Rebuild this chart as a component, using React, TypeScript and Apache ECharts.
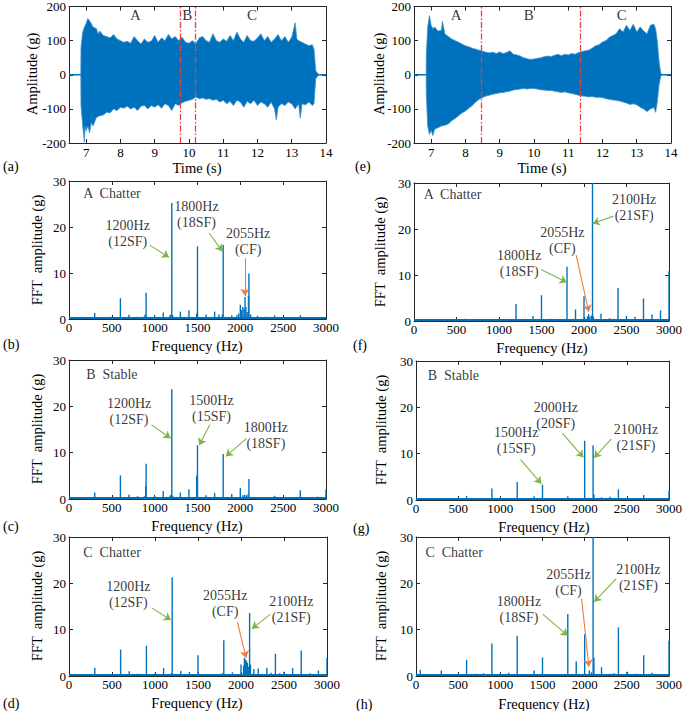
import React, { useEffect, useRef } from "react";
import * as echarts from "echarts";

// ---------------- data ----------------
const TIME_TICKS = [7, 8, 9, 10, 11, 12, 13, 14];

// envelope of the acceleration signal, panel (a)
const TIME_A_UPPER: [number, number][] = [
  [6.845, 0], [6.85, 80], [6.9, 125], [6.95, 140], [7.0, 150], [7.05, 165], [7.1, 158], [7.15, 150], [7.2, 140],
  [7.3, 135], [7.35, 120], [7.4, 128], [7.5, 115], [7.6, 112], [7.7, 108], [7.8, 118], [7.9, 105], [8.0, 100],
  [8.1, 95], [8.2, 98], [8.3, 92], [8.4, 112], [8.5, 100], [8.6, 90], [8.7, 105], [8.8, 95], [8.9, 98], [9.0, 115],
  [9.1, 95], [9.2, 108], [9.3, 100], [9.4, 118], [9.5, 105], [9.6, 112], [9.7, 100], [9.8, 110], [9.9, 95],
  [10.0, 92], [10.1, 100], [10.2, 90], [10.3, 108], [10.4, 112], [10.5, 100], [10.6, 95], [10.7, 120], [10.8, 100],
  [10.9, 95], [11.0, 105], [11.1, 98], [11.2, 115], [11.3, 100], [11.4, 125], [11.5, 105], [11.6, 95], [11.7, 115],
  [11.8, 100], [11.9, 98], [12.0, 108], [12.1, 120], [12.2, 100], [12.3, 112], [12.4, 95], [12.5, 105], [12.6, 118],
  [12.7, 100], [12.8, 112], [12.9, 95], [13.0, 110], [13.1, 152], [13.15, 105], [13.2, 100], [13.3, 95], [13.4, 90],
  [13.5, 85], [13.6, 88], [13.65, 75], [13.7, 12], [13.75, 5], [13.8, 0],
];
const TIME_A_LOWER: [number, number][] = [
  [6.845, 0], [6.85, -90], [6.9, -150], [6.95, -197], [6.97, -150], [7.0, -165], [7.05, -150], [7.1, -170],
  [7.15, -140], [7.2, -150], [7.3, -125], [7.4, -120], [7.5, -118], [7.6, -110], [7.7, -112], [7.8, -100],
  [7.9, -105], [8.0, -95], [8.1, -98], [8.2, -92], [8.3, -100], [8.4, -95], [8.5, -105], [8.6, -92], [8.7, -90],
  [8.8, -100], [8.9, -90], [9.0, -95], [9.1, -88], [9.2, -98], [9.3, -85], [9.4, -90], [9.5, -105], [9.6, -85],
  [9.7, -90], [9.8, -82], [9.9, -78], [10.0, -75], [10.1, -72], [10.2, -65], [10.3, -70], [10.4, -68], [10.5, -72],
  [10.6, -70], [10.7, -75], [10.8, -72], [10.9, -80], [11.0, -75], [11.1, -85], [11.2, -78], [11.3, -90], [11.4, -75],
  [11.5, -80], [11.6, -95], [11.7, -78], [11.8, -85], [11.9, -75], [12.0, -90], [12.1, -80], [12.2, -85], [12.3, -95],
  [12.4, -80], [12.5, -100], [12.55, -132], [12.6, -95], [12.7, -85], [12.8, -90], [12.9, -80], [13.0, -85],
  [13.1, -100], [13.2, -85], [13.25, -127], [13.3, -85], [13.4, -88], [13.5, -80], [13.6, -90], [13.65, -85],
  [13.7, -12], [13.75, -5], [13.8, 0],
];

// envelope of the acceleration signal, panel (e)
const TIME_E_UPPER: [number, number][] = [
  [6.855, 0], [6.86, 60], [6.9, 140], [6.95, 173], [7.0, 145], [7.05, 135], [7.1, 140], [7.2, 128], [7.3, 130],
  [7.33, 156], [7.4, 120], [7.5, 112], [7.6, 105], [7.7, 100], [7.8, 95], [7.9, 90], [8.0, 85], [8.1, 82], [8.2, 78],
  [8.3, 75], [8.4, 72], [8.5, 69], [8.6, 66], [8.7, 64], [8.8, 66], [8.9, 62], [9.0, 67], [9.1, 62], [9.2, 65],
  [9.3, 70], [9.4, 60], [9.5, 58], [9.6, 55], [9.7, 50], [9.8, 47], [9.9, 45], [10.0, 46], [10.1, 48], [10.2, 50],
  [10.3, 53], [10.4, 55], [10.5, 53], [10.6, 57], [10.7, 60], [10.8, 56], [10.9, 60], [11.0, 58], [11.1, 62],
  [11.2, 60], [11.3, 65], [11.4, 68], [11.5, 70], [11.6, 72], [11.7, 78], [11.8, 85], [11.9, 88], [12.0, 96],
  [12.1, 100], [12.2, 110], [12.3, 115], [12.4, 120], [12.5, 135], [12.6, 125], [12.7, 145], [12.8, 130],
  [12.9, 148], [13.0, 125], [13.1, 140], [13.2, 128], [13.3, 120], [13.4, 145], [13.5, 148], [13.55, 135],
  [13.6, 100], [13.65, 40], [13.7, 5], [13.75, 0],
];
const TIME_E_LOWER: [number, number][] = [
  [6.855, 0], [6.86, -60], [6.9, -150], [6.95, -175], [7.0, -163], [7.05, -178], [7.1, -160], [7.2, -155],
  [7.3, -150], [7.4, -148], [7.5, -144], [7.6, -135], [7.7, -128], [7.8, -120], [7.9, -112], [8.0, -106], [8.1, -98],
  [8.2, -90], [8.3, -80], [8.4, -72], [8.5, -67], [8.6, -62], [8.7, -60], [8.8, -57], [8.9, -55], [9.0, -53],
  [9.1, -52], [9.2, -50], [9.3, -48], [9.4, -45], [9.5, -43], [9.6, -42], [9.7, -40], [9.8, -42], [9.9, -40],
  [10.0, -40], [10.1, -42], [10.2, -44], [10.3, -45], [10.4, -46], [10.5, -46], [10.6, -48], [10.7, -50], [10.8, -52],
  [10.9, -50], [11.0, -53], [11.1, -55], [11.2, -57], [11.3, -60], [11.4, -62], [11.5, -63], [11.6, -65], [11.7, -64],
  [11.8, -66], [11.9, -66], [12.0, -67], [12.1, -70], [12.2, -72], [12.3, -74], [12.4, -75], [12.5, -77], [12.6, -80],
  [12.7, -83], [12.8, -87], [12.9, -85], [13.0, -88], [13.1, -95], [13.2, -100], [13.3, -108], [13.4, -100],
  [13.5, -96], [13.55, -110], [13.6, -80], [13.65, -30], [13.7, -5], [13.75, 0],
];

const BOUNDS_A = [9.75, 10.18];
const BOUNDS_E = [8.45, 11.35];
const REGIONS_A: [number, number, string][] = [[8.44, 176, "A"], [9.95, 176, "B"], [11.84, 176, "C"]];
const REGIONS_E: [number, number, string][] = [[7.73, 176, "A"], [9.85, 176, "B"], [12.56, 176, "C"]];

// FFT spectra [frequency Hz, amplitude g]
const SPEC_B: [number, number][] = [
  [300, 1.3], [400, 0.3], [500, 0.5], [600, 4.5], [700, 0.9], [800, 0.5], [880, 0.6], [890, 1.0], [900, 5.7],
  [1000, 0.7], [1100, 1.4], [1180, 0.8], [1190, 1.0], [1200, 25.2], [1210, 0.8], [1300, 1.6], [1400, 1.9],
  [1490, 1.2], [1500, 15.8], [1600, 1.0], [1700, 1.6], [1750, 1.0], [1790, 1.0], [1800, 16.1], [1900, 0.8],
  [1960, 0.8], [1980, 1.2], [2000, 3.1], [2015, 2.0], [2030, 2.6], [2045, 2.2], [2055, 4.8], [2065, 2.6],
  [2080, 1.5], [2095, 5.0], [2100, 9.9], [2120, 1.0], [2200, 0.7], [2300, 0.5], [2400, 0.8], [2500, 0.3],
  [2700, 0.8], [2900, 0.3],
];
const SPEC_F: [number, number][] = [
  [300, 0.3], [600, 0.5], [900, 0.4], [1000, 0.5], [1200, 3.7], [1400, 1.1], [1500, 5.6], [1600, 0.5], [1700, 0.4],
  [1750, 0.3], [1800, 11.8], [1900, 2.5], [2000, 5.4], [2040, 1.0], [2055, 1.5], [2070, 1.0], [2090, 1.2],
  [2100, 31], [2110, 1.0], [2200, 1.6], [2300, 0.6], [2350, 0.5], [2400, 7.2], [2500, 1.1], [2600, 0.9],
  [2700, 4.9], [2800, 1.4], [2900, 2.3], [2950, 0.4], [3000, 10.8],
];
const SPEC_C: [number, number][] = [
  [300, 1.4], [400, 0.3], [500, 0.3], [600, 5.1], [700, 0.9], [800, 0.6], [880, 0.6], [895, 2.8], [900, 7.6],
  [1000, 0.7], [1100, 1.7], [1180, 0.7], [1190, 0.9], [1200, 23.7], [1210, 0.7], [1300, 1.4], [1400, 2.1],
  [1490, 5.0], [1500, 11.6], [1600, 0.8], [1700, 1.3], [1800, 9.7], [1900, 1.1], [2000, 2.4], [2030, 0.8],
  [2050, 0.9], [2070, 0.8], [2090, 1.0], [2100, 4.3], [2200, 0.4], [2400, 0.7], [2600, 0.3], [2700, 1.9],
  [2900, 0.5], [3000, 2.1],
];
const SPEC_G: [number, number][] = [
  [300, 0.4], [600, 0.9], [900, 2.5], [1000, 0.5], [1100, 0.3], [1200, 3.9], [1400, 0.8], [1500, 3.3], [1800, 0.8],
  [1900, 0.3], [2000, 12.8], [2050, 0.5], [2100, 11.8], [2110, 1.2], [2200, 0.6], [2300, 0.7], [2400, 2.3],
  [2600, 0.4], [2700, 1.1], [2900, 0.4], [3000, 2.0],
];
const SPEC_D: [number, number][] = [
  [300, 1.8], [400, 0.4], [500, 0.5], [600, 5.7], [700, 1.0], [800, 0.5], [900, 6.5], [1000, 0.6], [1100, 1.7],
  [1190, 0.6], [1200, 21.3], [1300, 1.1], [1400, 0.9], [1500, 4.5], [1780, 0.6], [1800, 7.7], [1900, 0.8],
  [2000, 2.5], [2030, 2.2], [2040, 3.9], [2050, 3.0], [2055, 3.5], [2065, 3.2], [2075, 2.8], [2085, 2.0],
  [2100, 13.6], [2110, 2.5], [2150, 1.5], [2200, 1.6], [2300, 1.8], [2350, 0.7], [2400, 4.8], [2450, 0.6],
  [2500, 0.9], [2600, 1.7], [2700, 5.5], [2800, 0.6], [2900, 1.2], [3000, 4.0],
];
const SPEC_H: [number, number][] = [
  [50, 1.3], [300, 1.2], [600, 3.5], [700, 0.5], [800, 0.6], [900, 7.0], [1000, 0.6], [1100, 0.7], [1200, 8.7],
  [1400, 1.2], [1500, 4.0], [1700, 0.3], [1800, 13.4], [1900, 3.2], [2000, 9.0], [2055, 1.2], [2080, 0.8],
  [2100, 31], [2110, 4.0], [2200, 1.9], [2300, 0.5], [2350, 0.6], [2400, 10.5], [2500, 0.9], [2600, 0.5],
  [2700, 4.5], [2800, 0.7], [2900, 0.3], [3000, 7.6],
];
const NOISE_FLOOR = 0.2;

// annotations (anchored in data coordinates)
type Note = [number, number, string, boolean?];
type Arrow = [number, number, number, number, "g" | "o"];
const NOTES_B: Note[] = [[160, 27.2, "A  Chatter", true], [686, 18.5, "1200Hz\n(12SF)"], [1488, 22.8, "1800Hz\n(18SF)"], [2091, 16.9, "2055Hz\n(CF)"]];
const ARROWS_B: Arrow[] = [[946, 16.0, 1168, 13.4, "g"], [1636, 18.65, 1792, 14.7, "g"], [2053, 13.2, 2053, 5.05, "o"]];
const NOTES_F: Note[] = [[109, 27.6, "A  Chatter", true], [2590, 24.6, "2100Hz\n(21SF)"], [1745, 17.5, "2055Hz\n(CF)"], [1238, 12.5, "1800Hz\n(18SF)"]];
const ARROWS_F: Arrow[] = [[2348, 22.8, 2103, 21.2, "g"], [1908, 14.3, 2056, 2.0, "o"], [1495, 11.2, 1796, 8.4, "g"]];
const NOTES_C: Note[] = [[195, 26.9, "B  Stable", true], [701, 18.9, "1200Hz\n(12SF)"], [1663, 19.5, "1500Hz\n(15SF)"], [2298, 13.6, "1800Hz\n(18SF)"]];
const ARROWS_C: Arrow[] = [[963, 16.0, 1185, 13.1, "g"], [1644, 16.0, 1519, 11.6, "g"], [2072, 13.1, 1831, 9.2, "g"]];
const NOTES_G: Note[] = [[133, 26.9, "B  Stable", true], [1658, 18.2, "2000Hz\n(20SF)"], [2609, 13.4, "2100Hz\n(21SF)"], [1189, 12.8, "1500Hz\n(15SF)"]];
const ARROWS_G: Arrow[] = [[1737, 14.4, 1984, 9.2, "g"], [2316, 13.2, 2113, 9.1, "g"], [1240, 8.7, 1487, 3.5, "g"]];
const NOTES_D: Note[] = [[160, 26.6, "C  Chatter", true], [690, 17.6, "1200Hz\n(12SF)"], [1816, 15.7, "2055Hz\n(CF)"], [2585, 14.4, "2100Hz\n(21SF)"]];
const ARROWS_D: Arrow[] = [[963, 14.7, 1184, 12.1, "g"], [1959, 11.6, 2060, 3.9, "o"], [2340, 13.3, 2127, 10.2, "g"]];
const NOTES_H: Note[] = [[106, 26.7, "C  Chatter", true], [1221, 14.4, "1800Hz\n(18SF)"], [1808, 20.1, "2055Hz\n(CF)"], [2637, 21.3, "2100Hz\n(21SF)"]];
const ARROWS_H: Arrow[] = [[1502, 13.35, 1800, 8.7, "g"], [1964, 16.7, 2050, 2.0, "o"], [2375, 21.0, 2113, 16.0, "g"]];

// ---------------- styling / layout ----------------
const FONT = "'Liberation Serif', 'Times New Roman', serif";
const BLUE = "#0072BD";
const GREEN = "#7DB544";
const ORANGE = "#F07C3A";
const RED = "#EE3B3B";
const AXIS = "#262626";

type G = { left: number; top: number; width: number; height: number };
const GRID_A: G = { left: 69, top: 5, width: 257, height: 138 };
const GRID_E: G = { left: 414, top: 5, width: 257, height: 138 };
const GRID_B: G = { left: 69, top: 181, width: 257, height: 138 };
const GRID_F: G = { left: 414, top: 183, width: 257, height: 138 };
const GRID_C: G = { left: 69, top: 360, width: 257, height: 139 };
const GRID_G: G = { left: 416, top: 361, width: 256, height: 139 };
const GRID_D: G = { left: 69, top: 537, width: 258, height: 139 };
const GRID_H: G = { left: 416, top: 537, width: 256, height: 139 };

const PANEL_LABELS: [string, number, number][] = [
  ["(a)", 3, 166], ["(e)", 355, 166], ["(b)", 3, 344], ["(f)", 353, 345],
  ["(c)", 3, 526], ["(g)", 353, 528], ["(d)", 3, 703], ["(h)", 356, 704],
];
// axis titles: [text, centre x, centre y, vertical]
const AXIS_TITLES: [string, number, number, boolean][] = [
  ["Time (s)", 197, 168, false], ["Time (s)", 542, 168, false],
  ["Frequency (Hz)", 197, 346, false], ["Frequency (Hz)", 542, 348, false],
  ["Frequency (Hz)", 197, 526, false], ["Frequency (Hz)", 544, 527, false],
  ["Frequency (Hz)", 197, 703, false], ["Frequency (Hz)", 544, 704, false],
  ["Amplitude (g)", 32, 74, true], ["Amplitude (g)", 379, 74, true],
  ["FFT  amplitude (g)", 37, 250, true], ["FFT  amplitude (g)", 380, 252, true],
  ["FFT  amplitude (g)", 37, 429, true], ["FFT  amplitude (g)", 381, 430, true],
  ["FFT  amplitude (g)", 37, 606, true], ["FFT  amplitude (g)", 381, 606, true],
];

function buildOption() {
  const grids: any[] = [];
  const xAxes: any[] = [];
  const yAxes: any[] = [];
  const series: any[] = [];

  const tickStyle = { show: true, inside: true, length: 4, lineStyle: { color: AXIS, width: 1 } };
  const lineStyle = { show: true, onZero: false, lineStyle: { color: AXIS, width: 1 } };
  const lbl = {
    fontFamily: FONT, fontSize: 13, fontWeight: 400, color: "#000",
    formatter: (v: number) => String(v),
  };

  function addAxes(gi: number, x: any, y: any) {
    xAxes.push({
      type: "value", gridIndex: gi, position: "bottom", min: x.min, max: x.max, interval: x.interval,
      axisLine: lineStyle,
      axisTick: { ...tickStyle, customValues: x.custom },
      axisLabel: { ...lbl, margin: x.margin, customValues: x.custom, showMinLabel: true, showMaxLabel: true },
      splitLine: { show: false },
    });
    xAxes.push({
      type: "value", gridIndex: gi, position: "top", min: x.min, max: x.max, interval: x.interval,
      axisLine: lineStyle, axisTick: { ...tickStyle, customValues: x.custom },
      axisLabel: { show: false }, splitLine: { show: false },
    });
    yAxes.push({
      type: "value", gridIndex: gi, position: "left", min: y.min, max: y.max, interval: y.interval,
      axisLine: lineStyle, axisTick: tickStyle,
      axisLabel: { ...lbl, margin: 3, showMinLabel: true, showMaxLabel: true },
      splitLine: { show: false },
    });
    yAxes.push({
      type: "value", gridIndex: gi, position: "right", min: y.min, max: y.max, interval: y.interval,
      axisLine: lineStyle, axisTick: tickStyle, axisLabel: { show: false }, splitLine: { show: false },
    });
  }

  const noteLabel = {
    show: true, formatter: "{b}", fontFamily: FONT, fontSize: 14, fontWeight: 400, lineHeight: 16, color: "#000",
  };

  function timePanel(g: G, upper: [number, number][], lower: [number, number][], bounds: number[], regions: [number, number, string][]) {
    const gi = grids.length;
    grids.push({ ...g, containLabel: false });
    addAxes(gi, { min: 6.5, max: 14, custom: TIME_TICKS, margin: 3 }, { min: -200, max: 200, interval: 100 });
    const ax = { xAxisIndex: gi * 2, yAxisIndex: gi * 2 };
    series.push({
      type: "line", ...ax, data: [[6.5, 0], [14, 0]], symbol: "none",
      lineStyle: { color: BLUE, width: 1.5 }, silent: true,
    });
    for (const env of [upper, lower]) {
      series.push({
        type: "line", ...ax, data: env, symbol: "none",
        lineStyle: { color: "#3D8FCC", width: 0.8 }, areaStyle: { color: BLUE, opacity: 1 }, silent: true,
      });
    }
    series.push({
      type: "scatter", ...ax, symbolSize: 1, itemStyle: { color: "transparent" }, silent: true,
      data: regions.map((r) => ({ name: r[2], value: [r[0], r[1]] })),
      label: { ...noteLabel, fontSize: 15, position: "inside" },
      markLine: {
        silent: true, symbol: ["none", "none"], label: { show: false },
        lineStyle: { color: RED, width: 1.3, type: [6, 2, 1.5, 2] },
        data: bounds.map((b) => ({ xAxis: b })),
      },
    });
  }

  function fftPanel(g: G, spec: [number, number][], notes: Note[], arrows: Arrow[]) {
    const gi = grids.length;
    grids.push({ ...g, containLabel: false });
    addAxes(gi, { min: 0, max: 3000, interval: 500, margin: 2 }, { min: 0, max: 30, interval: 10 });
    const ax = { xAxisIndex: gi * 2, yAxisIndex: gi * 2 };
    series.push({
      type: "line", ...ax, data: [[0, NOISE_FLOOR], [3000, NOISE_FLOOR]], symbol: "none",
      lineStyle: { color: BLUE, width: 2 }, silent: true,
    });
    series.push({
      type: "bar", ...ax, data: spec, barWidth: 1.4, itemStyle: { color: BLUE }, silent: true,
    });
    series.push({
      type: "scatter", ...ax, symbolSize: 1, itemStyle: { color: "transparent" }, silent: true,
      data: notes.map((n) => ({
        name: n[2], value: [n[0], n[1]],
        label: n[3] ? { position: "right", distance: 0, align: "left" } : { position: "inside", align: "center" },
      })),
      label: noteLabel,
      markLine: {
        silent: true, symbol: ["none", "arrow"], symbolSize: 7, label: { show: false },
        data: arrows.map((a) => {
          const c = a[4] === "g" ? GREEN : ORANGE;
          return [
            { coord: [a[0], a[1]], lineStyle: { color: c, width: 1.1, type: "solid" }, itemStyle: { color: c } },
            { coord: [a[2], a[3]], lineStyle: { color: c, width: 1.1, type: "solid" }, itemStyle: { color: c } },
          ];
        }),
      },
    });
  }

  timePanel(GRID_A, TIME_A_UPPER, TIME_A_LOWER, BOUNDS_A, REGIONS_A);
  timePanel(GRID_E, TIME_E_UPPER, TIME_E_LOWER, BOUNDS_E, REGIONS_E);
  fftPanel(GRID_B, SPEC_B, NOTES_B, ARROWS_B);
  fftPanel(GRID_F, SPEC_F, NOTES_F, ARROWS_F);
  fftPanel(GRID_C, SPEC_C, NOTES_C, ARROWS_C);
  fftPanel(GRID_G, SPEC_G, NOTES_G, ARROWS_G);
  fftPanel(GRID_D, SPEC_D, NOTES_D, ARROWS_D);
  fftPanel(GRID_H, SPEC_H, NOTES_H, ARROWS_H);

  const graphic: any[] = PANEL_LABELS.map(([t, x, y]) => ({
    type: "text", x, y, silent: true,
    style: { text: t, fontFamily: FONT, fontSize: 14, fontWeight: 400, fill: "#000", verticalAlign: "middle", align: "left" },
  }));
  for (const [t, x, y, vert] of AXIS_TITLES) {
    graphic.push({
      type: "text", x, y, rotation: vert ? Math.PI / 2 : 0, silent: true,
      style: { text: t, fontFamily: FONT, fontSize: 14.5, fontWeight: 400, fill: "#000", align: "center", verticalAlign: "middle" },
    });
  }

  return {
    animation: false,
    backgroundColor: "#ffffff",
    textStyle: { fontFamily: FONT, fontWeight: 400 },
    grid: grids,
    xAxis: xAxes,
    yAxis: yAxes,
    series,
    graphic,
  };
}

export default function App() {
  const ref = useRef<HTMLDivElement>(null);
  useEffect(() => {
    if (!ref.current) return;
    const chart = echarts.init(ref.current, undefined, { renderer: "svg" });
    chart.setOption(buildOption() as any);
    return () => chart.dispose();
  }, []);
  return (
    <div
      ref={ref}
      style={{ position: "absolute", left: 0, top: 0, width: 685, height: 711, background: "#fff" }}
    />
  );
}
